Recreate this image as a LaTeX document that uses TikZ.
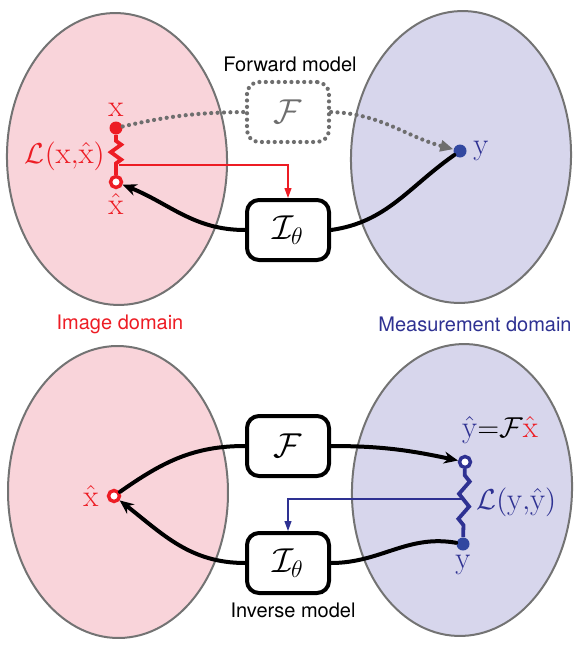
\documentclass[tikz,border=0pt]{standalone}
\usepackage{fontspec}
\setsansfont{TeX Gyre Heros}
\usepackage{amsmath}
\usetikzlibrary{arrows.meta, positioning, shapes.geometric, decorations.pathmorphing, calc}
\definecolor{imgred}{RGB}{237,28,36}
\definecolor{measblue}{RGB}{46,49,146}
\definecolor{dotblue}{RGB}{50,72,160}
\definecolor{imgfill}{RGB}{249,212,218}
\definecolor{measfill}{RGB}{215,214,236}
\definecolor{rimgray}{RGB}{115,115,115}
\definecolor{dotgray}{RGB}{110,110,110}

\begin{document}
\begin{tikzpicture}[x=0.5pt, y=-0.5pt,
        region/.style={ellipse, draw=rimgray, line width=1pt, minimum width=110pt, minimum height=146pt, inner sep=0pt},
        opbox/.style={draw, rounded corners=6pt, line width=2pt, minimum width=41pt, minimum height=30pt, fill=white, font=\fontsize{18}{20}\selectfont},
        dots/.style={draw=dotgray, line width=2.1pt, dash pattern=on 0pt off 3.2pt, line cap=round},
        fwdbox/.style={opbox, dots, text=dotgray},
        solidpt/.style={circle, fill=#1, minimum size=6.5pt, inner sep=0pt},
        hollowpt/.style={circle, draw=#1, fill=white, line width=1.7pt, minimum size=5.5pt, inner sep=0pt},
        mlabel/.style={inner sep=1pt, font=\fontsize{15.5}{18}\selectfont},
        caption/.style={font=\sffamily\fontsize{10}{12}\selectfont},
        flowline/.style={line width=2pt, line cap=round},
        flow/.style={flowline, -{Stealth[length=7pt, width=6pt]}},
        feed/.style={line width=0.55pt, -{Triangle[length=5pt, width=3.5pt]}},
        loss/.style={line width=1.9pt, decorate, decoration={zigzag, segment length=#1, amplitude=2.6pt, pre length=3pt, post length=4pt}}
    ]
        \useasboundingbox (0,0) rectangle (581,648);

        % domains
        \node[region, fill=imgfill, rotate=1.7] (imgA) at (117,159) {};
        \node[region, fill=measfill, rotate=-1.6] (measA) at (461,157) {};
        \node[region, fill=imgfill, rotate=0.4] (imgB) at (118,492) {};
        \node[region, fill=measfill, rotate=-2] (measB) at (462,490) {};
        \node[caption, text=imgred] (imgcap) at (120,324) {Image domain};
        \node[caption, text=measblue] (meascap) at (475,324) {Measurement domain};

        % top: forward model and supervised loss
        \node[caption] (fwdcap) at (290,64) {Forward model};
        \node[fwdbox] (Ftop) at (288,112) {$\mathcal{F}$};
        \node[opbox] (Itop) at (288,230) {$\mathcal{I}_\theta$};
        \node[solidpt=imgred] (x) at (116,128) {};
        \node[hollowpt=imgred] (xh) at (116,182) {};
        \node[solidpt=dotblue] (y) at (460,151) {};
        \node[mlabel, text=imgred, above=1pt of x] (xlab) {$\mathrm{x}$};
        \node[mlabel, text=imgred, below=1pt of xh] (xhlab) {$\hat{\mathrm{x}}$};
        \node[mlabel, text=measblue, right=2pt of y] (ylab) {$\mathrm{y}$};
        \node[mlabel, text=imgred, anchor=east] (lossxlab) at (107,156) {$\mathcal{L}(\mathrm{x}{,}\hat{\mathrm{x}})$};

        \draw[imgred, loss=7.5pt] (x) -- (xh);
        \coordinate (lossx) at (119,165);
        \draw[imgred, feed] (lossx) -| (Itop.north);
        \draw[dots] (x) to[bend left=6] (Ftop.west);
        \draw[dots, -{Triangle[length=6.5pt, width=5.5pt, fill=dotgray]}] (Ftop.east) to[out=-2, in=165] (y);
        \draw[flowline] (y) to[out=215, in=8] (Itop.east);
        \draw[flow] (Itop.west) to[out=180, in=-22] (xh);

        % bottom: inverse model and self-supervised loss
        \node[caption] (invcap) at (293,610) {Inverse model};
        \node[opbox] (Fbot) at (288,446) {$\mathcal{F}$};
        \node[opbox] (Ibot) at (288,563) {$\mathcal{I}_\theta$};
        \node[hollowpt=imgred] (xb) at (114,496) {};
        \node[hollowpt=measblue] (yh) at (465,462) {};
        \node[solidpt=dotblue] (yb) at (463,544) {};
        \node[mlabel, text=imgred, left=3pt of xb] (xblab) {$\hat{\mathrm{x}}$};
        \node[mlabel, anchor=south] (yhlab) at (500,446) {$\color{measblue}\hat{\mathrm{y}}\color{black}{=}\mathcal{F}\color{imgred}\hat{\mathrm{x}}$};
        \node[mlabel, text=measblue, below=1pt of yb] (yblab) {$\mathrm{y}$};
        \node[mlabel, text=measblue, anchor=west] (lossylab) at (474,502) {$\mathcal{L}(\mathrm{y}{,}\hat{\mathrm{y}})$};

        \draw[measblue, loss=12.5pt] (yh) -- (yb);
        \coordinate (lossy) at (465,499);
        \draw[measblue, feed] (lossy) -| (Ibot.north);
        \draw[flowline] (xb) to[out=35, in=180] (Fbot.west);
        \draw[flow] (Fbot.east) to[out=0, in=168] (yh);
        \draw[flowline] (yb) to[out=170, in=0] (Ibot.east);
        \draw[flow] (Ibot.west) to[out=180, in=-38] (xb);
    \end{tikzpicture}
\end{document}
